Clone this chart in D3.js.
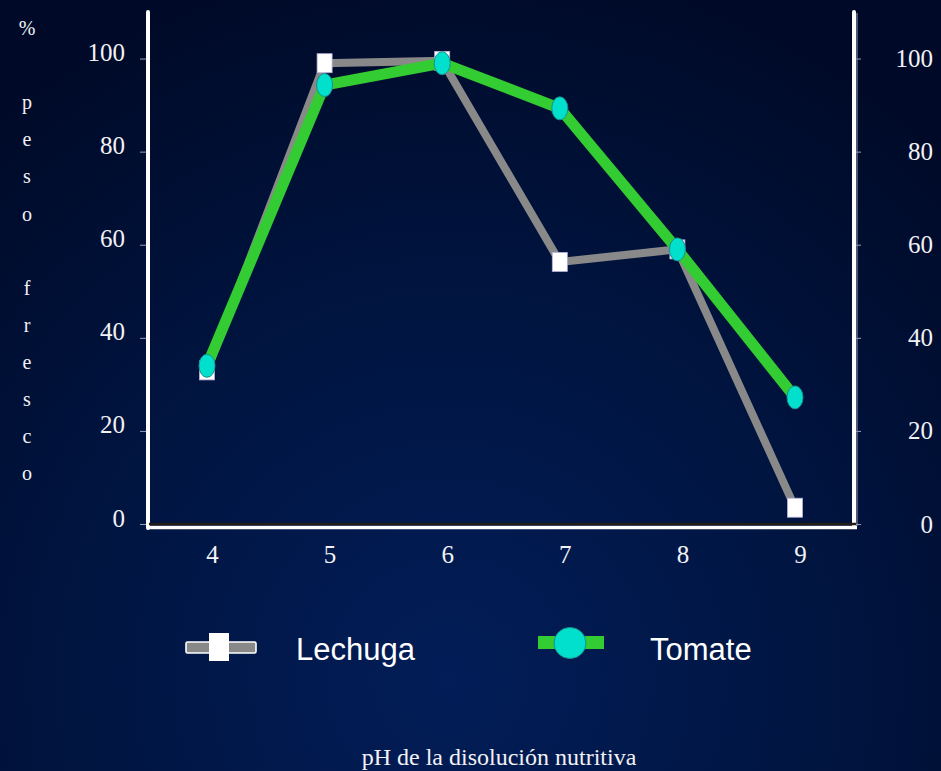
<!DOCTYPE html>
<html>
<head>
<meta charset="utf-8">
<script src="https://cdn.jsdelivr.net/npm/d3@7"></script>
<style>
  html, body { margin: 0; padding: 0; background: #000c30; }
  svg { display: block; }
</style>
</head>
<body>
<svg id="chart" width="941" height="771"></svg>
<script>
// pH of the nutrient solution and relative fresh weight (%) per crop
const phValues = [4, 5, 6, 7, 8, 9];
const lechuga = [33, 99, 99.5, 56.3, 59, 3.5];
const tomate = [34, 94.3, 99, 89.3, 59, 27.2];
const yTicks = [0, 20, 40, 60, 80, 100];
const seriesNames = ["Lechuga", "Tomate"];
const yTitleChars = ["%", "", "p", "e", "s", "o", "", "f", "r", "e", "s", "c", "o"];
const xTitle = "pH de la disolución nutritiva";

const W = 941, H = 771;
const svg = d3.select("#chart");
const serif = "'Liberation Serif', 'Times New Roman', serif";
const sans = "'Liberation Sans', Arial, sans-serif";

// background: dark navy with a soft glow towards the bottom centre
const defs = svg.append("defs");
const bg = defs.append("radialGradient").attr("id", "bg")
  .attr("gradientUnits", "userSpaceOnUse")
  .attr("cx", 450).attr("cy", 680).attr("r", 720);
bg.append("stop").attr("offset", "0%").attr("stop-color", "#021d58");
bg.append("stop").attr("offset", "55%").attr("stop-color", "#00143f");
bg.append("stop").attr("offset", "100%").attr("stop-color", "#000a28");
svg.append("rect").attr("width", W).attr("height", H).attr("fill", "url(#bg)");

// scales
const x = d3.scaleLinear().domain([4, 9]).range([207, 795]);
const y = d3.scaleLinear().domain([0, 110]).range([524, 12]);

const axL = 148, axR = 854, axTop = y(110), axBottom = y(0);

// left axis ticks + labels
const leftAxis = svg.append("g").attr("transform", `translate(${axL - 2},0)`)
  .call(d3.axisLeft(y).tickValues(yTicks).tickSize(6).tickPadding(15).tickFormat(d3.format("d")));
leftAxis.select(".domain").remove();
leftAxis.selectAll(".tick line").attr("stroke", "#9a9fb8").attr("stroke-width", 1);
leftAxis.selectAll(".tick text")
  .attr("fill", "#f2f2f6").attr("font-family", serif).attr("font-size", 25)
  .attr("transform", "translate(0,-6)");

// right axis ticks + labels
const rightAxis = svg.append("g").attr("transform", `translate(${axR + 2},0)`)
  .call(d3.axisRight(y).tickValues(yTicks).tickSize(5).tickFormat(d3.format("d")));
rightAxis.select(".domain").remove();
rightAxis.selectAll(".tick line").attr("stroke", "#9a9fb8").attr("stroke-width", 1);
rightAxis.selectAll(".tick text")
  .attr("fill", "#f2f2f6").attr("font-family", serif).attr("font-size", 25)
  .attr("text-anchor", "end").attr("x", 933 - (axR + 2));

// bottom axis labels (no tick marks)
const bottomAxis = svg.append("g").attr("transform", `translate(5,${axBottom})`)
  .call(d3.axisBottom(x).tickValues(phValues).tickSize(0).tickPadding(0).tickFormat(d3.format("d")));
bottomAxis.select(".domain").remove();
bottomAxis.selectAll(".tick text")
  .attr("fill", "#f2f2f6").attr("font-family", serif).attr("font-size", 25)
  .attr("dy", null).attr("y", 563 - axBottom);

// frame: white side rules and a double bottom rule
svg.append("line").attr("x1", axL).attr("x2", axL).attr("y1", axTop).attr("y2", axBottom + 4)
  .attr("stroke", "#ffffff").attr("stroke-width", 4).attr("stroke-linecap", "round");
svg.append("line").attr("x1", axR + 3).attr("x2", axR + 3).attr("y1", axTop + 1).attr("y2", axBottom + 2)
  .attr("stroke", "#8088a0").attr("stroke-width", 1.2);
svg.append("line").attr("x1", axR).attr("x2", axR).attr("y1", axTop).attr("y2", axBottom + 3)
  .attr("stroke", "#ffffff").attr("stroke-width", 4).attr("stroke-linecap", "round");
svg.append("line").attr("x1", axL - 1).attr("x2", axR + 3).attr("y1", axBottom + 3.5).attr("y2", axBottom + 3.5)
  .attr("stroke", "#ffffff").attr("stroke-width", 3.5);
svg.append("line").attr("x1", axL + 1).attr("x2", axR + 2).attr("y1", axBottom).attr("y2", axBottom)
  .attr("stroke", "#221d16").attr("stroke-width", 2.5);

// series
const line = d3.line().x((d, i) => x(phValues[i])).y(d => y(d));
const plot = svg.append("g");

plot.append("path").datum(lechuga).attr("d", line)
  .attr("fill", "none").attr("stroke", "#898989").attr("stroke-width", 8)
  .attr("stroke-linejoin", "miter");
plot.selectAll("rect.lechuga").data(lechuga).join("rect").attr("class", "lechuga")
  .attr("x", (d, i) => x(phValues[i]) - 7.5).attr("y", d => y(d) - 9.5)
  .attr("width", 15).attr("height", 19)
  .attr("fill", "#ffffff").attr("stroke", "#b6b0dc").attr("stroke-width", 0.8);

plot.append("path").datum(tomate).attr("d", line)
  .attr("fill", "none").attr("stroke", "#33cc33").attr("stroke-width", 11)
  .attr("stroke-linejoin", "miter");
plot.selectAll("ellipse.tomate").data(tomate).join("ellipse").attr("class", "tomate")
  .attr("cx", (d, i) => x(phValues[i])).attr("cy", d => y(d))
  .attr("rx", 8).attr("ry", 11.5)
  .attr("fill", "#00e0cc").attr("stroke", "#1a8f8c").attr("stroke-width", 1);

// legend
const legend = svg.append("g");
const lg1 = legend.append("g");
lg1.append("rect").attr("x", 186).attr("y", 642).attr("width", 70).attr("height", 11)
  .attr("fill", "#888888").attr("stroke", "#ffffff").attr("stroke-width", 1.6).attr("rx", 1.5);
lg1.append("rect").attr("x", 209).attr("y", 633).attr("width", 20).attr("height", 28)
  .attr("fill", "#ffffff");
lg1.append("text").attr("x", 296).attr("y", 660).text(seriesNames[0])
  .attr("fill", "#ffffff").attr("font-family", sans).attr("font-size", 31);

const lg2 = legend.append("g");
lg2.append("rect").attr("x", 538).attr("y", 636).attr("width", 66).attr("height", 13)
  .attr("fill", "#33cc33");
lg2.append("ellipse").attr("cx", 570).attr("cy", 643).attr("rx", 16).attr("ry", 15.5)
  .attr("fill", "#00e0cc").attr("stroke", "#1a8f8c").attr("stroke-width", 1);
lg2.append("text").attr("x", 650).attr("y", 660).text(seriesNames[1])
  .attr("fill", "#ffffff").attr("font-family", sans).attr("font-size", 31);

// vertical y title, one character per line
svg.append("g").selectAll("text").data(yTitleChars).join("text")
  .attr("x", 27).attr("y", (d, i) => 35 + i * 37.1)
  .attr("text-anchor", "middle")
  .attr("fill", "#f2f2f6").attr("font-family", serif).attr("font-size", 20)
  .text(d => d);

// x title
svg.append("text").attr("x", 499).attr("y", 765).attr("text-anchor", "middle")
  .attr("fill", "#f2f2f6").attr("font-family", serif).attr("font-size", 24)
  .text(xTitle);
</script>
</body>
</html>
